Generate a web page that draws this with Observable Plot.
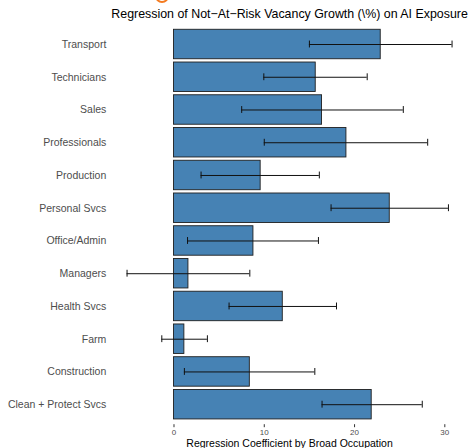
<!DOCTYPE html>
<html>
<head>
<meta charset="utf-8">
<script src="https://cdn.jsdelivr.net/npm/d3@7"></script>
<script src="https://cdn.jsdelivr.net/npm/@observablehq/plot@0.6"></script>
<style>
  html, body { margin: 0; padding: 0; background: #fff; }
  #wrap { position: relative; width: 470px; height: 448px; overflow: hidden; }
  #badge { position: absolute; left: 155px; top: -11px; width: 10px; height: 10px;
           border: 2px solid #f47b20; border-radius: 50%; }
</style>
</head>
<body>
<div id="wrap"><div id="badge"></div></div>
<script>
// Broad occupation groups, top to bottom
const occupations = [
  "Transport", "Technicians", "Sales", "Professionals", "Production",
  "Personal Svcs", "Office/Admin", "Managers", "Health Svcs", "Farm",
  "Construction", "Clean + Protect Svcs"
];
// Point estimates and confidence bounds
const coefs = [22.9, 15.7, 16.4, 19.1, 9.6, 23.9, 8.8, 1.6, 12.05, 1.15, 8.4, 21.9];
const lower = [15.0, 9.95, 7.5, 10.0, 3.0, 17.4, 1.5, -5.2, 6.1, -1.35, 1.15, 16.4];
const upper = [30.8, 21.4, 25.4, 28.1, 16.1, 30.4, 16.0, 8.4, 18.0, 3.7, 15.6, 27.5];
const xTicks = [0, 10, 20, 30];

const titleText = "Regression of Not\u2212At\u2212Risk Vacancy Growth (\\%) on AI Exposure";
const xLabel = "Regression Coefficient by Broad Occupation";

const rows = occupations.map((occ, i) => ({occ, coef: coefs[i], lo: lower[i], hi: upper[i]}));

const chart = Plot.plot({
  width: 470,
  height: 448,
  marginTop: 26,
  marginBottom: 25.8,
  marginLeft: 110.3,
  marginRight: 2.2,
  style: {fontFamily: "'Liberation Sans', Arial, Helvetica, sans-serif", background: "white"},
  x: {domain: [-7, 32.6], label: null},
  y: {domain: occupations, padding: 0.1, round: false, label: null},
  marks: [
    Plot.barX(rows, {y: "occ", x1: 0, x2: "coef", fill: "#4682b4", stroke: "#1f1f1f", strokeWidth: 0.9}),
    Plot.ruleY(rows, {y: "occ", x1: "lo", x2: "hi", stroke: "#111", strokeWidth: 1}),
    Plot.tickX(rows, {y: "occ", x: "lo", stroke: "#111", strokeWidth: 1, insetTop: 11.3, insetBottom: 11.3}),
    Plot.tickX(rows, {y: "occ", x: "hi", stroke: "#111", strokeWidth: 1, insetTop: 11.3, insetBottom: 11.3}),
    Plot.axisY({tickSize: 0, tickPadding: 4.5, fontSize: 10.5, color: "#4d4d4d", label: null}),
    Plot.axisX({ticks: xTicks, tickSize: 3, tickPadding: 2, dy: 2, fontSize: 8, color: "#4d4d4d", stroke: "#333", label: null}),
    Plot.text([titleText], {frameAnchor: "top", dy: -9, lineAnchor: "bottom", fontSize: 12.4, fill: "#000"}),
    Plot.text([xLabel], {frameAnchor: "bottom", dy: 24.5, lineAnchor: "bottom", fontSize: 10.5, fill: "#000"})
  ]
});
document.getElementById("wrap").prepend(chart);
</script>
</body>
</html>
